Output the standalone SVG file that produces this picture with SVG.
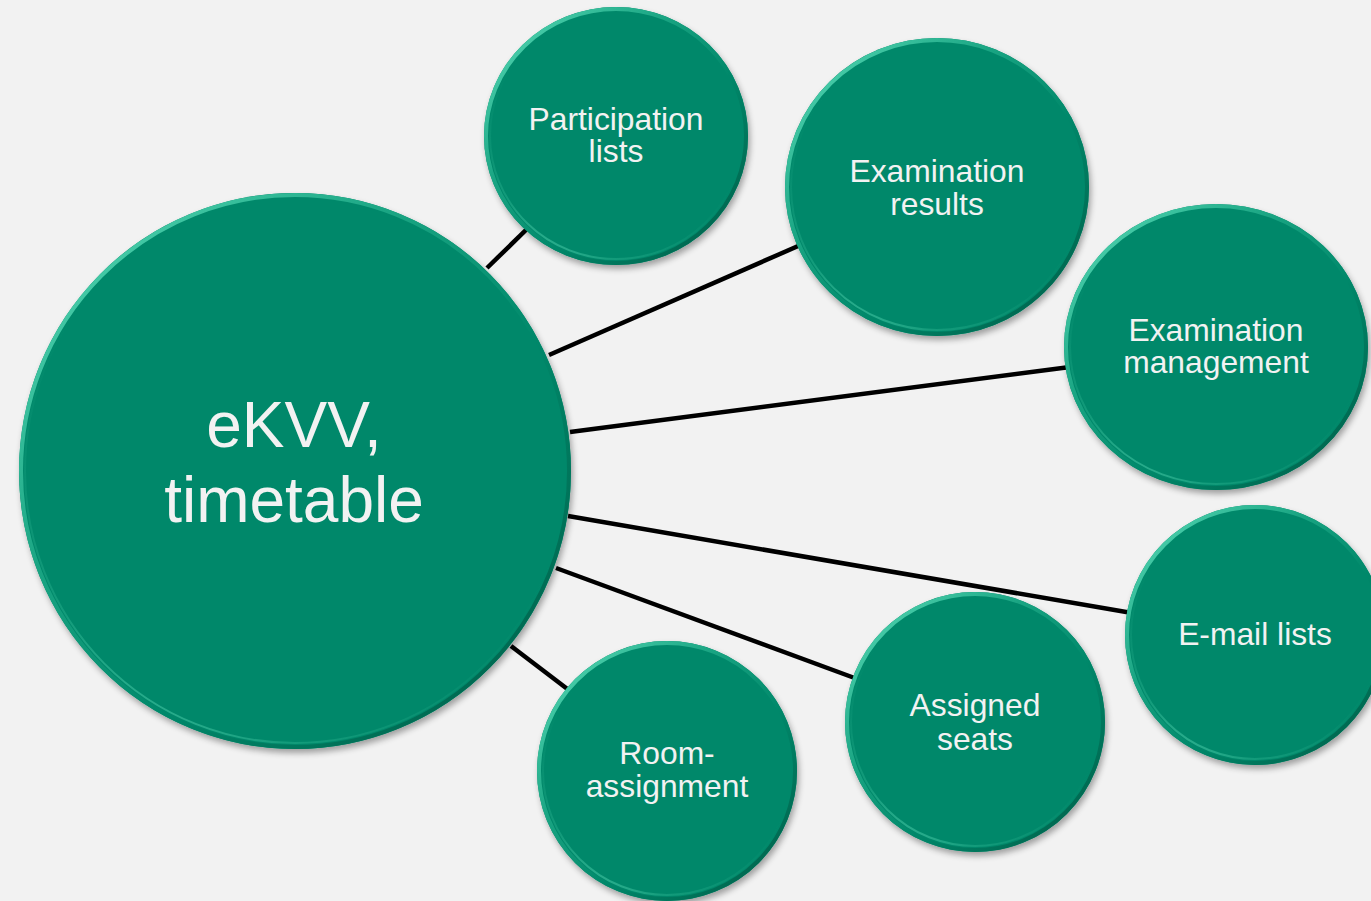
<svg xmlns="http://www.w3.org/2000/svg" width="1371" height="901" viewBox="0 0 1371 901">
<defs>
<style>
.c{fill:#00886a;filter:url(#sh)}
.rim{fill:none;stroke:url(#rimg);stroke-width:4}
.rim2{fill:none;stroke:url(#rimg2);stroke-width:2}
.t{fill:#f2f2f2;font-family:"Liberation Sans",Arial,sans-serif;font-size:31.8px;text-anchor:middle}
.big{font-size:64px}
.ln{stroke:#000;stroke-width:4.5;fill:none}
</style>
<linearGradient id="rimg" x1="0" y1="0" x2="1" y2="1">
<stop offset="0" stop-color="#5fe0bc"/>
<stop offset="0.35" stop-color="#1aa583"/>
<stop offset="0.6" stop-color="#00886a"/>
<stop offset="1" stop-color="#005a45"/>
</linearGradient>
<linearGradient id="rimg2" x1="0" y1="1" x2="0.4" y2="0.3">
<stop offset="0" stop-color="#7ff0d0"/>
<stop offset="0.3" stop-color="#20a886" stop-opacity="0.6"/>
<stop offset="1" stop-color="#00886a" stop-opacity="0"/>
</linearGradient>
<filter id="sh" x="-10%" y="-10%" width="125%" height="125%">
<feGaussianBlur in="SourceAlpha" stdDeviation="3"/>
<feOffset dx="2" dy="4" result="b"/>
<feComponentTransfer><feFuncA type="linear" slope="0.35"/></feComponentTransfer>
<feMerge><feMergeNode/><feMergeNode in="SourceGraphic"/></feMerge>
</filter>
</defs>
<rect width="1371" height="901" fill="#f2f2f2"/>
<g id="connectors">
<line class="ln" x1="487" y1="268" x2="530" y2="226"/>
<line class="ln" x1="549" y1="355" x2="805" y2="243"/>
<line class="ln" x1="570" y1="432" x2="1070" y2="367"/>
<line class="ln" x1="568" y1="516" x2="1132" y2="613"/>
<line class="ln" x1="556" y1="568" x2="860" y2="680"/>
<line class="ln" x1="511" y1="646" x2="570" y2="691"/>
</g>
<g id="main">
<ellipse class="c" cx="295" cy="471" rx="276" ry="278"/>
<ellipse class="rim" cx="295" cy="471" rx="274" ry="276"/>
<ellipse class="rim2" cx="295" cy="471" rx="270" ry="272"/>
<text class="t big" x="294" y="447">eKVV,</text>
<text class="t big" x="294" y="522">timetable</text>
</g>
<g id="participation">
<ellipse class="c" cx="616" cy="136" rx="132" ry="129"/>
<ellipse class="rim" cx="616" cy="136" rx="130" ry="127"/>
<ellipse class="rim2" cx="616" cy="136" rx="126" ry="123"/>
<text class="t" x="616" y="130">Participation</text>
<text class="t" x="616" y="162">lists</text>
</g>
<g id="exam-results">
<ellipse class="c" cx="937" cy="187" rx="152" ry="149"/>
<ellipse class="rim" cx="937" cy="187" rx="150" ry="147"/>
<ellipse class="rim2" cx="937" cy="187" rx="146" ry="143"/>
<text class="t" x="937" y="182">Examination</text>
<text class="t" x="937" y="215">results</text>
</g>
<g id="exam-management">
<ellipse class="c" cx="1216" cy="347" rx="152" ry="143"/>
<ellipse class="rim" cx="1216" cy="347" rx="150" ry="141"/>
<ellipse class="rim2" cx="1216" cy="347" rx="146" ry="137"/>
<text class="t" x="1216" y="341">Examination</text>
<text class="t" x="1216" y="373">management</text>
</g>
<g id="email-lists">
<ellipse class="c" cx="1255" cy="635" rx="130" ry="130"/>
<ellipse class="rim" cx="1255" cy="635" rx="128" ry="128"/>
<ellipse class="rim2" cx="1255" cy="635" rx="124" ry="124"/>
<text class="t" x="1255" y="645">E-mail lists</text>
</g>
<g id="assigned-seats">
<ellipse class="c" cx="975" cy="722" rx="130" ry="130"/>
<ellipse class="rim" cx="975" cy="722" rx="128" ry="128"/>
<ellipse class="rim2" cx="975" cy="722" rx="124" ry="124"/>
<text class="t" x="975" y="716">Assigned</text>
<text class="t" x="975" y="750">seats</text>
</g>
<g id="room-assignment">
<ellipse class="c" cx="667" cy="771" rx="130" ry="130"/>
<ellipse class="rim" cx="667" cy="771" rx="128" ry="128"/>
<ellipse class="rim2" cx="667" cy="771" rx="124" ry="124"/>
<text class="t" x="667" y="764">Room-</text>
<text class="t" x="667" y="797">assignment</text>
</g>
</svg>
